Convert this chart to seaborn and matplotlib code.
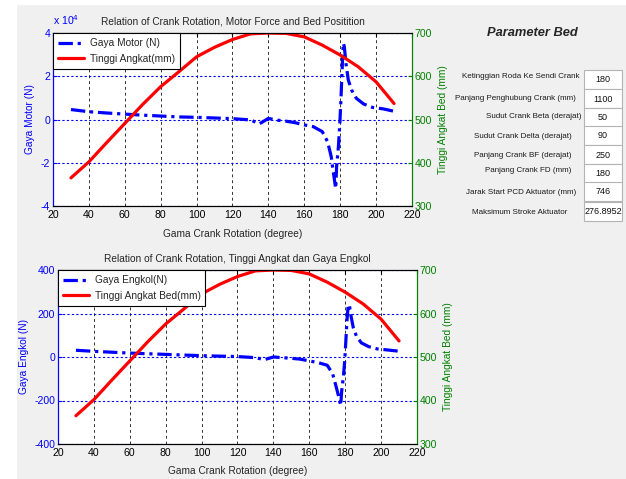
import matplotlib
matplotlib.use("Agg")
import matplotlib.pyplot as plt
import seaborn as sns
import numpy as np
import pandas as pd
from matplotlib.patches import Rectangle
from matplotlib.lines import Line2D
from matplotlib import font_manager

sns.set_style("white")
names = {f.name for f in font_manager.fontManager.ttflist}
NARROW = 'Liberation Sans Narrow' in names
plt.rcParams['font.family'] = ['Liberation Sans Narrow' if NARROW else 'Liberation Sans', 'DejaVu Sans']
K = 1.0 if NARROW else 0.88

# ---------------- data ----------------
x_tinggi = [30, 40, 50, 60, 70, 80, 90, 100, 110, 120, 130, 140, 150, 160, 170, 180, 190, 200, 210]
tinggi = [365, 402, 447, 491, 535, 576, 610, 645, 667, 685, 698, 700, 699, 691, 672, 649, 622, 587, 537]

x_gaya = [30, 40, 50, 60, 70, 80, 90, 100, 110, 120, 130, 135, 140, 145, 150, 155, 160, 165, 170,
          173, 175, 176, 177.5, 178, 179, 179.8, 180.4, 181, 181.7, 182.3, 183.2, 184.5, 186.3,
          189, 193, 198, 204, 209.5]
gaya_motor = [0.46, 0.36, 0.30, 0.25, 0.20, 0.16, 0.12, 0.10, 0.07, 0.04, -0.02, -0.20, 0.05, -0.03,
              -0.08, -0.15, -0.25, -0.33, -0.56, -1.03, -1.72, -2.34, -3.19, -2.18, -1.26, -0.18,
              0.90, 2.14, 3.53, 3.37, 2.60, 1.83, 1.37, 0.98, 0.72, 0.56, 0.49, 0.39]
gaya_engkol = [31, 26, 22, 18, 15, 12, 9, 6, 4, 2, -3, -12, 0, -3, -6, -10, -18, -26, -38,
               -77, -138, -170, -223, -160, -90, -10, 80, 170, 240, 240, 190, 135, 95,
               65, 48, 37, 32, 27]

x_ticks = [20, 40, 60, 80, 100, 120, 140, 160, 180, 200, 220]
motor_ticks = [-4, -2, 0, 2, 4]
engkol_ticks = [-400, -200, 0, 200, 400]
tinggi_ticks = [300, 400, 500, 600, 700]

param_labels = ["Ketinggian Roda Ke Sendi Crank", "Panjang Penghubung Crank (mm)",
                "Sudut Crank Beta (derajat)", "Sudut Crank Delta (derajat)",
                "Panjang Crank BF (derajat)", "Panjang Crank FD (mm)",
                "Jarak Start PCD Aktuator (mm)", "Maksimum Stroke Aktuator"]
param_values = ["180", "1100", "50", "90", "250", "180", "746", "276.8952"]

# ---------------- figure ----------------
W, H = 626, 479
fig = plt.figure(figsize=(W / 100, H / 100), dpi=100, facecolor='white')
fig.add_artist(Rectangle((17 / W, 0), 1 - 17 / W, (H - 5) / H, transform=fig.transFigure,
                         facecolor='#f0f0f0', edgecolor='none', zorder=0))

BLUE = '#0000ff'
GREEN = '#008000'
RED = '#ff0000'
TICK_FS = 8.6 * K
LAB_FS = 8.3 * K
DASH = (0, (4.5, 1.5, 1, 1.5))

def px_axes(l, t, r, b):
    return fig.add_axes([l / W, 1 - b / H, (r - l) / W, (b - t) / H])

def make_panel(box, yvals, yticks, ylab, title, leg1, leg2):
    ax = px_axes(*box)
    ax.set_facecolor('white')
    df_b = pd.DataFrame({'x': x_gaya, 'y': yvals})
    df_r = pd.DataFrame({'x': x_tinggi, 'y': tinggi})
    sns.lineplot(data=df_b, x='x', y='y', ax=ax, color=BLUE, linewidth=2.3,
                 linestyle=DASH, legend=False)
    ax.set_xlim(20, 220)
    ax.set_ylim(yticks[0], yticks[-1])
    ax.set_xticks(x_ticks)
    ax.set_yticks(yticks)
    ax.set_yticklabels([str(v) for v in yticks])
    ax.grid(True, axis='x', color='black', linestyle=(0, (3, 3)), linewidth=0.7, alpha=0.8)
    ax.grid(True, axis='y', color=BLUE, linestyle=(0, (2, 2)), linewidth=0.8)
    ax.tick_params(axis='x', direction='in', length=3, colors='black', labelsize=TICK_FS,
                   top=True, pad=3)
    ax.tick_params(axis='y', direction='in', length=3, colors=BLUE, labelsize=TICK_FS, pad=2)
    ax.set_xlabel("Gama Crank Rotation (degree)", fontsize=LAB_FS, labelpad=6)
    ax.set_ylabel(ylab, color=BLUE, fontsize=LAB_FS, labelpad=4)
    ax.set_title(title, fontsize=LAB_FS, pad=6)
    for s in ['top', 'bottom']:
        ax.spines[s].set_color('black')
    ax.spines['left'].set_color(BLUE)
    ax.spines['right'].set_color(GREEN)
    for s in ax.spines.values():
        s.set_linewidth(0.8)

    ax2 = ax.twinx()
    sns.lineplot(data=df_r, x='x', y='y', ax=ax2, color=RED, linewidth=2.3, legend=False)
    ax2.set_ylim(300, 700)
    ax2.set_yticks(tinggi_ticks)
    ax2.tick_params(axis='y', direction='in', length=3, colors=GREEN, labelsize=TICK_FS, pad=2)
    ax2.set_ylabel("Tinggi Angkat Bed (mm)", color=GREEN, fontsize=LAB_FS, labelpad=4)
    ax2.spines['right'].set_color(GREEN)
    ax2.spines['left'].set_color(BLUE)
    ax2.spines['top'].set_color('black')
    ax2.spines['bottom'].set_color('black')
    for s in ax2.spines.values():
        s.set_linewidth(0.8)
    ax2.grid(False)

    handles = [Line2D([], [], color=BLUE, linewidth=2.3, linestyle=DASH),
               Line2D([], [], color=RED, linewidth=2.3)]
    leg = ax2.legend(handles, [leg1, leg2], loc='upper left', borderaxespad=0,
                     fontsize=8.3 * K, fancybox=False, framealpha=1, edgecolor='black',
                     handlelength=2.6, handletextpad=0.5, borderpad=0.5, labelspacing=0.55)
    leg.get_frame().set_linewidth(0.8)
    return ax, ax2

ax_top, ax_top2 = make_panel((53, 33, 412, 206), gaya_motor, motor_ticks, "Gaya Motor (N)",
                             "Relation of Crank Rotation, Motor Force and Bed Positition",
                             "Gaya Motor (N)", "Tinggi Angkat(mm)")
fig.text(53 / W, 1 - 25 / H, r"x 10$^4$", color=BLUE, fontsize=TICK_FS, ha='left', va='baseline')

ax_bot, ax_bot2 = make_panel((58, 270, 417, 444), gaya_engkol, engkol_ticks, "Gaya Engkol (N)",
                             "Relation of Crank Rotation, Tinggi Angkat dan Gaya Engkol",
                             "Gaya Engkol(N)", "Tinggi Angkat Bed(mm)")

# ---------------- parameter panel ----------------
fig.text(532 / W, 1 - 33 / H, "Parameter Bed", fontsize=10.5 * K, fontweight='bold',
         fontstyle='italic', ha='center', va='center')

label_right = [579, 576, 581, 572, 572, 571, 576, 567]
label_y = [76, 98, 117, 137, 155, 171, 193, 213]
box_tops = [70, 89, 108, 126, 145, 164, 182, 202]
box_h = 19
for i, (lab, val) in enumerate(zip(param_labels, param_values)):
    fig.text(label_right[i] / W, 1 - label_y[i] / H, lab, fontsize=6.6 * K, ha='right', va='center',
             color='#1a1a1a')
    fig.add_artist(Rectangle((584 / W, 1 - (box_tops[i] + box_h) / H), 38 / W, box_h / H,
                             transform=fig.transFigure, facecolor='white', edgecolor='#b4b4b4',
                             linewidth=0.8, zorder=2))
    fig.text(603 / W, 1 - (box_tops[i] + box_h / 2 + 0.5) / H, val, fontsize=7.4 * K, ha='center',
             va='center', color='#111111', zorder=3)

fig.savefig("out.png", dpi=100, facecolor=fig.get_facecolor())
